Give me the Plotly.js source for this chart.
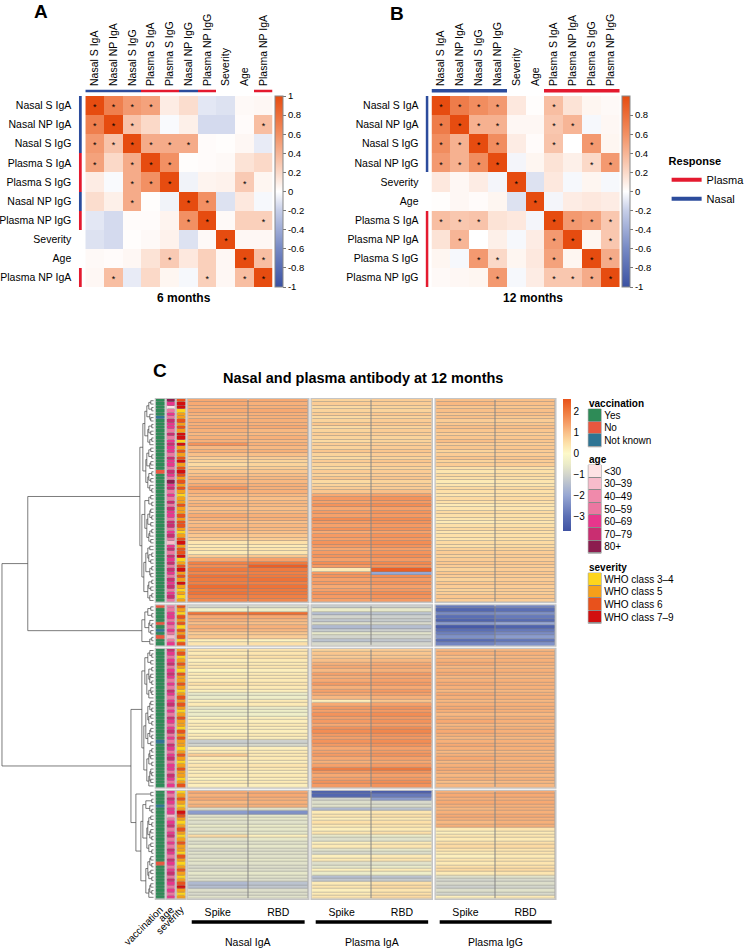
<!DOCTYPE html>
<html><head><meta charset="utf-8">
<script src="https://cdn.plot.ly/plotly-3.0.1.min.js"></script>
<style>html,body{margin:0;padding:0;background:#fff}#chart{width:750px;height:948px}</style>
</head><body><div id="chart"></div>
<script>
// ---------------- DATA ----------------
const varsA=['Nasal S IgA','Nasal NP IgA','Nasal S IgG','Plasma S IgA','Plasma S IgG','Nasal NP IgG','Plasma NP IgG','Severity','Age','Plasma NP IgA'];
const corrA=[
[1.00,0.70,0.55,0.50,0.10,0.18,-0.10,-0.12,0.03,0.04],
[0.70,1.00,0.32,0.20,-0.02,0.08,-0.15,-0.15,0.02,0.35],
[0.55,0.32,1.00,0.45,0.45,0.45,0.02,0.01,0.04,-0.08],
[0.50,0.20,0.45,1.00,0.60,0.01,0.02,0.03,0.15,0.20],
[0.10,-0.02,0.45,0.60,1.00,-0.05,0.06,0.07,0.28,0.05],
[0.18,0.08,0.45,0.01,-0.05,1.00,0.60,-0.12,0.12,-0.03],
[-0.10,-0.15,0.02,0.02,0.06,0.60,1.00,0.03,0.25,0.25],
[-0.12,-0.15,0.01,0.03,0.07,-0.12,0.03,1.00,0.04,0.04],
[0.03,0.02,0.04,0.15,0.28,0.12,0.25,0.04,1.00,0.35],
[0.04,0.35,-0.08,0.20,0.05,-0.03,0.25,0.04,0.35,1.00]];
const sigA=[
[1,1,1,1,0,0,0,0,0,0],
[1,1,1,0,0,0,0,0,0,1],
[1,1,1,1,1,1,0,0,0,0],
[1,0,1,1,1,0,0,0,0,0],
[0,0,1,1,1,0,0,0,1,0],
[0,0,1,0,0,1,1,0,0,0],
[0,0,0,0,0,1,1,0,0,1],
[0,0,0,0,0,0,0,1,0,0],
[0,0,0,0,1,0,0,0,1,1],
[0,1,0,0,0,0,1,0,1,1]];
const groupA=['Nasal','Nasal','Nasal','Plasma','Plasma','Nasal','Plasma','','','Plasma'];

const varsB=['Nasal S IgA','Nasal NP IgA','Nasal S IgG','Nasal NP IgG','Severity','Age','Plasma S IgA','Plasma NP IgA','Plasma S IgG','Plasma NP IgG'];
const corrB=[
[1.00,0.72,0.62,0.55,0.12,0.01,0.35,0.15,0.05,0.03],
[0.72,1.00,0.42,0.42,0.04,0.04,0.30,0.40,-0.03,0.04],
[0.62,0.42,1.00,0.62,0.10,0.02,0.32,0.00,0.55,0.05],
[0.55,0.42,0.62,1.00,-0.04,0.05,0.15,0.08,0.20,0.55],
[0.12,0.04,0.10,-0.04,1.00,-0.12,0.12,-0.03,0.05,-0.03],
[0.01,0.04,0.02,0.05,-0.12,1.00,-0.04,0.10,0.12,0.10],
[0.35,0.30,0.32,0.15,0.12,-0.04,1.00,0.55,0.50,0.30],
[0.15,0.40,0.00,0.08,-0.03,0.10,0.55,1.00,0.05,0.30],
[0.05,-0.03,0.55,0.20,0.05,0.12,0.50,0.05,1.00,0.45],
[0.03,0.04,0.05,0.55,-0.03,0.10,0.30,0.30,0.45,1.00]];
const sigB=[
[1,1,1,1,0,0,1,0,0,0],
[1,1,1,1,0,0,1,1,0,0],
[1,1,1,1,0,0,1,0,1,0],
[1,1,1,1,0,0,0,0,1,1],
[0,0,0,0,1,0,0,0,0,0],
[0,0,0,0,0,1,0,0,0,0],
[1,1,1,0,0,0,1,1,1,1],
[0,1,0,0,0,0,1,1,0,1],
[0,0,1,1,0,0,1,0,1,1],
[0,0,0,1,0,0,1,1,1,1]];
const groupB=['Nasal','Nasal','Nasal','Nasal','','','Plasma','Plasma','Plasma','Plasma'];

// Panel C : rows per cluster block
const blockSizes=[60,12,41,32];
const nasalIgASpike=[
1.3,1.3,1.2,1.3,1.2,1.1,1.3,1.2,1.3,1.2,1.1,1.2,1.2,1.6,1.1,1.2,1.0,0.8,0.7,0.6,
0.8,0.9,1.0,1.2,1.1,1.3,1.6,1.2,1.1,1.0,1.1,1.2,1.0,1.1,1.3,1.2,1.0,1.1,1.2,1.0,
0.9,0.8,0.4,0.3,0.4,0.3,0.8,1.3,1.9,1.7,2.0,1.8,2.1,2.0,1.9,2.2,2.0,2.1,1.9,1.8,
-1.0,-0.3,2.1,1.3,1.2,1.0,1.3,1.1,0.8,0.9,0.2,0.4,
0.4,0.3,0.5,0.2,0.3,0.4,0.1,0.3,0.2,0.3,0.5,0.3,0.2,-0.6,-0.5,0.2,0.3,-0.6,-0.4,-0.5,
0.1,0.2,0.3,0.2,0.1,0.3,0.2,-1.2,-1.0,0.2,0.3,0.8,0.3,0.2,0.4,0.3,0.2,0.3,0.1,0.3,0.2,
1.3,1.2,1.3,1.1,1.2,-0.8,-2.2,-0.7,-0.6,-0.8,-0.5,-0.7,-0.6,0.6,-0.7,-0.8,-0.6,-0.9,-0.7,-0.8,
-0.6,-0.7,-0.9,-0.8,-0.6,-0.7,-0.8,-1.6,-1.5,-0.8,-0.9,-0.7];
const nasalIgARBD=[
1.3,1.2,1.2,1.3,1.2,1.2,1.2,1.2,1.3,1.1,1.1,1.2,1.1,1.2,1.1,1.2,1.0,0.8,0.7,0.7,
0.8,0.9,1.0,1.1,1.1,1.2,1.2,1.2,1.1,1.0,1.1,1.1,1.0,1.1,1.2,1.2,1.0,1.1,1.1,1.0,
0.9,0.8,0.5,0.3,0.4,0.4,0.9,1.4,2.0,2.4,2.0,1.9,2.0,2.1,1.9,2.1,2.0,2.0,1.9,1.8,
-0.9,-0.4,2.2,1.3,1.1,1.0,1.2,1.1,0.9,0.8,0.1,0.5,
0.4,0.4,0.5,0.3,0.3,0.4,0.2,0.3,0.3,0.3,0.4,0.3,0.2,-0.5,-0.4,0.3,0.3,-0.5,-0.4,-0.4,
0.2,0.2,0.3,0.2,0.2,0.3,0.2,-1.1,-0.9,0.2,0.3,0.3,0.3,0.2,0.4,0.3,0.2,0.3,0.2,0.3,0.2,
1.3,1.3,1.2,1.2,1.2,-0.7,-2.4,-0.6,-0.6,-0.7,-0.5,-0.6,-0.6,0.2,-0.6,-0.7,-0.6,-0.8,-0.7,-0.7,
-0.6,-0.7,-0.8,-0.8,-0.6,-0.7,-0.8,-1.4,-1.3,-0.8,-0.8,-0.7];
const plasmaIgASpike=[
0.7,0.8,0.6,0.7,0.8,0.6,0.7,0.9,0.6,0.7,0.8,0.7,0.6,0.8,0.7,0.9,0.7,0.6,0.8,0.7,
0.6,0.8,0.7,0.9,0.6,0.7,0.8,0.9,1.3,1.5,1.4,1.6,1.3,1.5,1.4,1.7,1.5,1.4,1.6,1.3,
1.5,1.4,1.6,1.5,1.3,1.5,1.6,1.4,1.7,1.5,0.3,1.5,1.6,1.4,1.5,1.3,1.4,1.6,1.5,1.4,
-1.2,-0.5,-1.5,-1.0,-1.3,-0.8,-1.6,-1.2,-0.6,-1.0,-1.4,-0.9,
0.7,0.9,0.8,1.0,1.2,1.3,1.1,1.4,1.2,1.3,1.5,1.2,1.4,1.3,1.1,0.2,1.3,1.5,1.4,1.6,
1.4,1.5,1.3,1.6,1.7,1.5,1.4,1.6,1.5,1.3,1.4,1.5,1.3,1.2,1.4,1.9,1.5,1.3,1.4,1.6,1.5,
-3.3,-3.2,-1.0,-0.8,-0.7,-1.6,0.3,0.4,0.2,0.5,0.3,0.2,0.4,-0.6,-0.8,0.2,0.3,-0.7,-0.9,0.2,
0.3,-0.8,-0.6,0.2,-0.5,-1.5,-1.3,0.3,0.4,0.2,0.3,0.4];
const plasmaIgARBD=[
0.8,0.8,0.7,0.7,0.9,0.7,0.8,0.9,0.7,0.8,0.8,0.7,0.7,0.8,0.8,0.9,0.8,0.7,0.9,0.8,
0.7,0.8,0.8,0.9,0.7,0.8,0.8,1.0,1.4,1.6,1.5,1.7,1.4,1.6,1.5,1.7,1.6,1.5,1.6,1.4,
1.6,1.5,1.7,1.6,1.4,1.6,1.7,1.5,1.8,1.6,2.4,-2.0,1.7,1.5,1.6,1.4,1.5,1.7,1.6,1.5,
-1.1,-0.6,-1.4,-1.1,-1.2,-0.9,-1.5,-1.1,-0.7,-1.0,-1.3,-1.0,
0.8,0.9,0.9,1.1,1.3,1.3,1.2,1.5,1.3,1.4,1.5,1.3,1.5,1.4,1.2,0.9,1.4,1.6,1.5,1.7,
1.5,1.6,1.4,1.7,1.8,1.6,1.5,1.7,1.6,1.4,1.5,1.6,1.4,1.3,1.5,2.0,1.6,1.4,1.5,1.7,1.6,
-3.4,-2.8,-2.2,-0.9,-0.8,-1.4,0.4,0.5,0.3,0.5,0.4,0.3,0.5,-0.5,-0.7,0.3,0.4,-0.6,-0.8,0.3,
0.4,-0.7,-0.5,0.3,-0.4,-1.4,-1.2,0.5,0.6,0.4,0.5,0.6];
const plasmaIgGSpike=[
1.0,1.1,0.9,1.0,0.9,1.0,0.8,0.9,1.0,0.9,0.8,0.9,1.0,0.8,0.9,0.7,0.8,0.9,0.7,0.8,
0.5,0.4,0.6,0.5,0.3,0.4,0.6,0.5,0.4,0.6,0.5,0.3,0.4,0.6,0.5,0.4,0.3,0.5,0.6,0.4,
0.5,0.4,0.6,0.5,0.7,0.8,0.7,0.8,0.9,0.8,0.7,0.9,0.8,0.7,0.9,0.8,0.7,0.8,0.9,0.8,
-2.8,-3.2,-2.5,-3.0,-3.3,-2.2,-3.5,-3.0,-2.7,-2.4,-3.1,-2.6,
1.1,1.2,1.0,1.2,1.3,1.1,1.2,1.3,1.1,1.2,1.3,1.2,1.1,1.3,1.2,1.1,1.2,1.3,1.2,1.1,
1.2,1.3,1.1,1.2,1.3,1.2,1.1,1.2,1.3,1.2,1.1,1.2,1.3,1.1,1.2,1.3,1.2,1.1,1.2,1.0,1.1,
1.2,1.3,1.2,1.3,1.2,1.1,1.2,1.3,1.2,1.1,1.2,0.3,0.2,0.4,0.3,0.5,0.6,0.4,0.3,0.2,
0.4,0.3,0.5,0.6,0.3,-0.8,-1.0,-0.9,-1.1,-0.8,-1.0,0.2];
const plasmaIgGRBD=[
1.0,1.0,0.9,1.0,1.0,0.9,0.8,0.9,1.0,0.9,0.8,0.9,0.9,0.8,0.9,0.8,0.8,0.9,0.8,0.8,
0.5,0.5,0.6,0.5,0.4,0.4,0.6,0.5,0.5,0.6,0.5,0.4,0.4,0.6,0.5,0.5,0.4,0.5,0.6,0.5,
0.5,0.5,0.6,0.6,0.7,0.8,0.8,0.8,0.9,0.8,0.8,0.9,0.8,0.8,0.9,0.8,0.8,0.8,0.9,0.8,
-2.6,-3.0,-2.4,-2.8,-3.1,-2.0,-3.3,-2.8,-2.5,-2.2,-2.9,-2.4,
1.1,1.2,1.1,1.2,1.2,1.1,1.2,1.2,1.1,1.2,1.2,1.2,1.1,1.2,1.2,1.1,1.2,1.2,1.2,1.1,
1.2,1.2,1.1,1.2,1.2,1.2,1.1,1.2,1.2,1.2,1.1,1.2,1.2,1.1,1.2,1.2,1.2,1.1,1.2,1.1,1.1,
1.3,1.3,1.2,1.3,1.2,1.2,1.2,1.3,1.2,1.2,1.2,0.4,0.3,0.4,0.3,0.5,0.6,0.4,0.4,0.3,
0.4,0.4,0.5,0.6,0.4,-0.7,-0.9,-0.8,-1.0,-0.7,-0.9,0.3];
// annotation codes
const vaccLevels=['Yes','No','Not known'];
const vaccination=[
0,0,0,0,0,2,0,0,0,0,0,0,0,0,0,0,0,0,0,0,0,1,0,0,0,0,0,0,0,0,0,0,0,0,0,0,0,0,0,0,
0,0,0,0,0,0,0,0,0,0,0,0,0,0,0,0,0,0,0,0,
1,0,0,0,0,1,0,2,0,1,0,0,
0,0,0,0,0,0,0,0,0,0,0,0,0,0,0,0,0,0,0,0,0,0,0,0,0,0,0,2,0,0,0,0,0,0,0,0,0,0,0,0,0,
0,0,0,0,2,0,0,0,0,0,0,0,0,0,0,0,0,0,0,0,0,1,0,0,0,0,0,0,0,0,0,0];
const ageLevels=['<30','30\u201339','40\u201349','50\u201359','60\u201369','70\u201379','80+'];
const ageGroup=[
6,4,0,3,4,3,5,4,4,3,5,3,4,5,4,4,3,5,4,4,3,5,4,3,6,4,5,3,4,3,5,3,5,4,4,3,5,5,3,4,
5,3,1,4,5,3,5,4,5,3,5,4,3,5,4,5,3,4,5,3,
3,3,4,4,3,4,3,4,3,1,3,4,
5,4,3,4,5,3,4,5,4,3,4,3,5,4,3,4,5,3,4,3,5,4,3,4,5,3,4,3,5,4,3,4,5,3,4,4,3,5,4,3,4,
4,3,5,4,3,4,4,1,3,4,5,3,4,5,3,4,3,5,4,3,5,4,3,4,5,3,5,4,3,4,3,4];
const sevLevels=['WHO class 3\u20134','WHO class 5','WHO class 6','WHO class 7\u20139'];
const severity=[
2,3,3,0,1,1,2,1,2,1,3,3,0,3,1,2,1,2,3,1,2,3,2,1,2,1,2,1,0,1,1,2,1,1,2,1,2,2,1,0,
1,2,3,1,2,2,3,0,1,2,3,1,2,1,3,1,0,1,0,1,
2,1,0,2,1,2,0,2,1,2,0,2,
1,2,0,1,2,1,0,2,1,1,2,1,0,1,2,1,2,1,0,1,2,1,1,0,2,1,2,1,1,0,1,2,1,0,1,2,1,1,0,1,2,
0,1,2,1,0,1,3,2,1,0,1,2,1,0,1,2,1,1,0,2,1,0,1,2,1,0,1,2,3,1,0,1];
// dendrogram: merge height between consecutive leaves (px-scale distance from leaves)
const mergeHeight=[
3,5,2,7,4,3,9,2,5,3,6,2,4,11,3,5,2,7,3,4,8,2,5,3,6,4,2,14,3,5,2,9,3,4,2,6,3,7,2,4,
5,3,12,4,6,2,5,3,8,2,4,3,10,2,5,3,6,2,4,
127,
3,6,2,9,4,2,5,3,12,2,4,
153,
4,2,6,3,9,2,5,3,4,2,7,3,2,5,12,3,4,2,6,3,5,2,8,3,4,2,6,3,10,2,4,3,5,2,7,3,2,4,3,5,
23,
3,18,2,8,4,2,11,3,5,2,6,3,4,2,7,3,5,2,13,3,4,2,6,3,5,2,8,3,4,2,5];
const cGroups=['Nasal IgA','Plasma IgA','Plasma IgG'];
const cCols=['Spike','RBD'];

// ---------------- LAYOUT HELPERS ----------------
const W=750,H=948;
const X=(a,b)=>[a/W,b/W];
const Y=(t,b)=>[1-b/H,1-t/H];
const FONT='Liberation Sans, Arial, Helvetica, sans-serif';
function discrete(colors){const n=colors.length,s=[];colors.forEach((c,i)=>{s.push([i/n,c]);s.push([(i+1)/n,c]);});return s;}
function hid(extra){return Object.assign({showgrid:false,zeroline:false,showticklabels:false,ticks:'',showline:false,fixedrange:true},extra);}
const idx=[...Array(10).keys()];
const BLUE='#2c4c9c',RED='#e41a2f';
const corrScale=[[0,'#3a51a2'],[0.2,'#7689c4'],[0.4,'#c6cee8'],[0.5,'#ffffff'],[0.6,'#fbd9c8'],[0.8,'#f29063'],[1,'#e64c10']];
const cScale=[[0,'#3f52a3'],[0.111,'#5b6fb5'],[0.27,'#97a7d3'],[0.429,'#d3d5cc'],[0.508,'#ebebc8'],[0.587,'#fdf9c9'],[0.667,'#fde0a8'],[0.746,'#f9bf88'],[0.825,'#f59a63'],[0.905,'#ef7a3e'],[1,'#e8521a']];
const vaccColors=['#2e8b57','#e9573f','#2f7594'];
const ageColors=['#fde2e4','#f7bccb','#f08aab','#ec77a1','#e8368c','#c92e71','#8c1d4f'];
const sevColors=['#fdd51c','#f5a01a','#e8521c','#d20f0f'];
const LINEGREY='#858585';

const traces=[];
const layout={width:W,height:H,margin:{l:0,r:0,t:0,b:0},paper_bgcolor:'#fff',plot_bgcolor:'#fff',
  font:{family:FONT,color:'#000',size:11},showlegend:true,shapes:[],annotations:[]};

// ---------- Panels A & B ----------
function corrPanel(p){
  traces.push({type:'heatmap',x:idx,y:idx,z:p.corr,xaxis:p.xa,yaxis:p.ya,coloraxis:p.ca,hoverinfo:'skip',xgap:0,ygap:0});
  const sx=[],sy=[];
  p.sig.forEach((r,i)=>r.forEach((s,j)=>{if(s){sx.push(j);sy.push(i+0.13);}}));
  traces.push({type:'scatter',mode:'text',x:sx,y:sy,text:sx.map(()=>'*'),textfont:{size:9,color:'#000',family:FONT},xaxis:p.xa,yaxis:p.ya,showlegend:false,hoverinfo:'skip'});
  const code=g=>g==='Nasal'?0:(g==='Plasma'?1:2);
  traces.push({type:'heatmap',x:[0],y:idx,z:p.group.map(g=>[code(g)]),xaxis:p.xbar,yaxis:p.ya,zmin:-0.5,zmax:2.5,colorscale:discrete([BLUE,RED,'#ffffff']),showscale:false,hoverinfo:'skip'});
  traces.push({type:'heatmap',x:idx,y:[0],z:[p.group.map(code)],xaxis:p.xa,yaxis:p.ybar,zmin:-0.5,zmax:2.5,colorscale:discrete([BLUE,RED,'#ffffff']),showscale:false,hoverinfo:'skip'});
}
corrPanel({corr:corrA,sig:sigA,group:groupA,xa:'x',ya:'y',xbar:'x3',ybar:'y3',ca:'coloraxis2'});
corrPanel({corr:corrB,sig:sigB,group:groupB,xa:'x2',ya:'y2',xbar:'x4',ybar:'y4',ca:'coloraxis3'});

const LF={size:10.5,family:FONT};
layout.xaxis=hid({domain:X(86,275),range:[-0.5,9.5],anchor:'y',side:'top',showticklabels:true,tickvals:idx,ticktext:varsA,tickangle:-90,tickfont:LF,ticklabelstandoff:9});
layout.yaxis=hid({domain:Y(96,287),range:[9.5,-0.5],anchor:'x',showticklabels:true,tickvals:idx,ticktext:varsA,tickfont:LF,ticklabelstandoff:13});
layout.xaxis2=hid({domain:X(435,625),range:[-0.5,9.5],anchor:'y2',side:'top',showticklabels:true,tickvals:idx,ticktext:varsB,tickangle:-90,tickfont:LF,ticklabelstandoff:9});
layout.yaxis2=hid({domain:Y(96,287),range:[9.5,-0.5],anchor:'x2',showticklabels:true,tickvals:idx,ticktext:varsB,tickfont:LF,ticklabelstandoff:12});
layout.xaxis3=hid({domain:X(79.5,82.5),range:[-0.5,0.5],anchor:'y'});
layout.yaxis3=hid({domain:Y(89.5,92.5),range:[-0.5,0.5],anchor:'x'});
layout.xaxis4=hid({domain:X(429,432),range:[-0.5,0.5],anchor:'y2'});
layout.yaxis4=hid({domain:Y(89,92.5),range:[-0.5,0.5],anchor:'x2'});

const cbBase={thickness:8,thicknessmode:'pixels',len:191,lenmode:'pixels',xanchor:'left',yanchor:'top',xpad:0,ypad:0,
  outlinecolor:'#888',outlinewidth:1,ticks:'outside',ticklen:3,tickcolor:'#777',tickfont:{size:9.5,family:FONT}};
const tvA=[1,0.8,0.6,0.4,0.2,0,-0.2,-0.4,-0.6,-0.8,-1];
layout.coloraxis2={cmin:-1,cmax:1,colorscale:corrScale,colorbar:Object.assign({},cbBase,{x:277/W,y:1-96/H,tickvals:tvA,ticktext:tvA.map(v=>String(v))})};
const tvB=tvA.slice(1);
layout.coloraxis3={cmin:-1,cmax:1,colorscale:corrScale,colorbar:Object.assign({},cbBase,{x:627/W,y:1-96/H,tickvals:tvB,ticktext:tvB.map(v=>String(v))})};

// Response legend (plotly legend)
traces.push({type:'scatter',mode:'lines',x:[null],y:[null],name:'Plasma',line:{color:RED,width:4},xaxis:'x',yaxis:'y',hoverinfo:'skip'});
traces.push({type:'scatter',mode:'lines',x:[null],y:[null],name:'Nasal',line:{color:BLUE,width:4},xaxis:'x',yaxis:'y',hoverinfo:'skip'});
layout.legend={x:672/W,y:1-151/H,xanchor:'left',yanchor:'top',bgcolor:'rgba(0,0,0,0)',font:{size:11,family:FONT},
  title:{text:'<b>Response</b>',font:{size:11,family:FONT}},tracegroupgap:0,itemwidth:30};

// ---------- Panel C ----------
const cTop=399,cBot=899,gapPx=3;
const nRows=blockSizes.reduce((a,b)=>a+b,0);
const rowPx=(cBot-cTop-gapPx*(blockSizes.length-1))/nRows;
const blockTop=[];let acc=0;
blockSizes.forEach((n,b)=>{blockTop.push(cTop+acc*rowPx+b*gapPx);acc+=n;});
const colX=[[157,166],[168,176.5],[178,187],[189,311],[314,435.5],[439,560]];
colX.forEach((d,k)=>{
  const ax={domain:X(d[0],d[1]),range:[-0.5,k<3?0.5:1.5],anchor:'y8'};
  if(k<3){Object.assign(ax,{showticklabels:true,tickvals:[0],ticktext:[['vaccination','age','severity'][k]],tickangle:-45,tickfont:{size:10},ticklabelstandoff:2});}
  else{Object.assign(ax,{showticklabels:true,tickvals:[0,1],ticktext:cCols,tickfont:{size:10.5},ticklabelstandoff:5});}
  layout['xaxis'+(5+k)]=hid(ax);
});
const series=[[nasalIgASpike,nasalIgARBD],[plasmaIgASpike,plasmaIgARBD],[plasmaIgGSpike,plasmaIgGRBD]];
let start=0;
blockSizes.forEach((n,b)=>{
  const ya='y'+(5+b);
  const top=blockTop[b],bot=top+n*rowPx;
  layout['yaxis'+(5+b)]=hid({domain:Y(top,bot),range:[n-0.5,-0.5],anchor:'x5'});
  const rows=[...Array(n).keys()];
  const sl=a=>a.slice(start,start+n);
  [[vaccination,vaccColors],[ageGroup,ageColors],[severity,sevColors]].forEach((ac,k)=>{
    traces.push({type:'heatmap',x:[0],y:rows,z:sl(ac[0]).map(v=>[v]),xaxis:'x'+(5+k),yaxis:ya,zmin:-0.5,zmax:ac[1].length-0.5,
      colorscale:discrete(ac[1]),showscale:false,ygap:0.45,hoverinfo:'skip'});
  });
  series.forEach((s,g)=>{
    const sp=sl(s[0]),rb=sl(s[1]);
    traces.push({type:'heatmap',x:[0,1],y:rows,z:rows.map(i=>[sp[i],rb[i]]),xaxis:'x'+(8+g),yaxis:ya,coloraxis:'coloraxis',xgap:1,ygap:0.45,hoverinfo:'skip'});
  });
  for(let k=0;k<6;k++){
    layout.shapes.push({type:'rect',xref:'x'+(5+k)+' domain',yref:ya+' domain',x0:0,x1:1,y0:0,y1:1,fillcolor:LINEGREY,line:{color:'#c4c4c4',width:2},layer:'below'});
  }
  start+=n;
});
layout.coloraxis={cmin:-3.7,cmax:2.6,colorscale:cScale,colorbar:{x:568/W,xanchor:'left',y:1-399/H,yanchor:'top',xpad:0,ypad:0,len:132,lenmode:'pixels',thickness:8,thicknessmode:'pixels',outlinewidth:0,
  tickvals:[-3,-2,-1,0,1,2],ticks:'',tickfont:{size:10,family:FONT}}};

// dendrogram built from the leaf-order merge heights
const leafY=[];
blockSizes.forEach((n,b)=>{for(let i=0;i<n;i++)leafY.push(blockTop[b]+(i+0.5)*rowPx);});
const dx=[],dy=[];
function build(a,b){
  if(a===b)return{y:leafY[a],h:0};
  let k=a;for(let i=a;i<b;i++){if(mergeHeight[i]>mergeHeight[k])k=i;}
  const L=build(a,k),R=build(k+1,b),h=mergeHeight[k];
  dx.push(L.h,h,h,R.h,null);dy.push(L.y,L.y,R.y,R.y,null);
  return{y:(L.y+R.y)/2,h:h};
}
build(0,nRows-1);
traces.push({type:'scatter',mode:'lines',x:dx,y:dy,xaxis:'x11',yaxis:'y9',line:{color:'#444',width:0.7},showlegend:false,hoverinfo:'skip'});
layout.xaxis11=hid({domain:X(0,155),range:[155,0],anchor:'y9'});
layout.yaxis9=hid({domain:Y(cTop,cBot),range:[cBot,cTop],anchor:'x11'});

// annotation legends as swatch heatmaps
const legs=[[vaccLevels,vaccColors,'y10',409,'vaccination'],[ageLevels,ageColors,'y11',465,'age'],[sevLevels,sevColors,'y12',573,'severity']];
legs.forEach((L,k)=>{
  const n=L[0].length,r=[...Array(n).keys()];
  traces.push({type:'heatmap',x:[0],y:r,z:r.map(v=>[v]),xaxis:'x12',yaxis:L[2],zmin:-0.5,zmax:n-0.5,colorscale:discrete(L[1]),showscale:false,ygap:1,hoverinfo:'skip'});
  layout['yaxis'+(10+k)]=hid({domain:Y(L[3],L[3]+n*12.6),range:[n-0.5,-0.5],anchor:'x12',side:'right',showticklabels:true,tickvals:r,ticktext:L[0],tickfont:{size:10},ticklabelstandoff:2});
  layout.shapes.push({type:'rect',xref:'x12 domain',yref:L[2]+' domain',x0:0,x1:1,y0:0,y1:1,fillcolor:'#8a8a8a',line:{color:'#aaa',width:1},layer:'below'});
  layout.annotations.push({xref:'paper',yref:'paper',x:592/W,y:1-(L[3]-6)/H,xanchor:'left',yanchor:'middle',text:'<b>'+L[4]+'</b>',showarrow:false,font:{size:10,family:FONT}});
});
layout.xaxis12=hid({domain:X(593,606),range:[-0.5,0.5],anchor:'y10'});

// group bars and labels under panel C
cGroups.forEach((g,k)=>{
  layout.shapes.push({type:'line',xref:'x'+(8+k)+' domain',yref:'paper',x0:0.035,x1:0.968,y0:1-922/H,y1:1-922/H,line:{color:'#000',width:3.5}});
  layout.annotations.push({xref:'x'+(8+k)+' domain',yref:'paper',x:0.5,y:1-942/H,text:g,showarrow:false,xanchor:'center',yanchor:'middle',font:{size:10.5,family:FONT}});
});

// titles
const ann=(x,y,t,s,anchor)=>layout.annotations.push({xref:'paper',yref:'paper',x:x/W,y:1-y/H,text:t,showarrow:false,xanchor:anchor||'center',yanchor:'middle',font:{size:s,family:FONT}});
ann(41,12,'<b>A</b>',19);
ann(400,13,'<b>B</b>',19);
ann(161,370,'<b>C</b>',19);
ann(185,298,'<b>6 months</b>',12);
ann(537,298,'<b>12 months</b>',12);
ann(366,378,'<b>Nasal and plasma antibody at 12 months</b>',14.5);

Plotly.newPlot('chart',traces,layout,{staticPlot:true,displayModeBar:false});
</script></body></html>
